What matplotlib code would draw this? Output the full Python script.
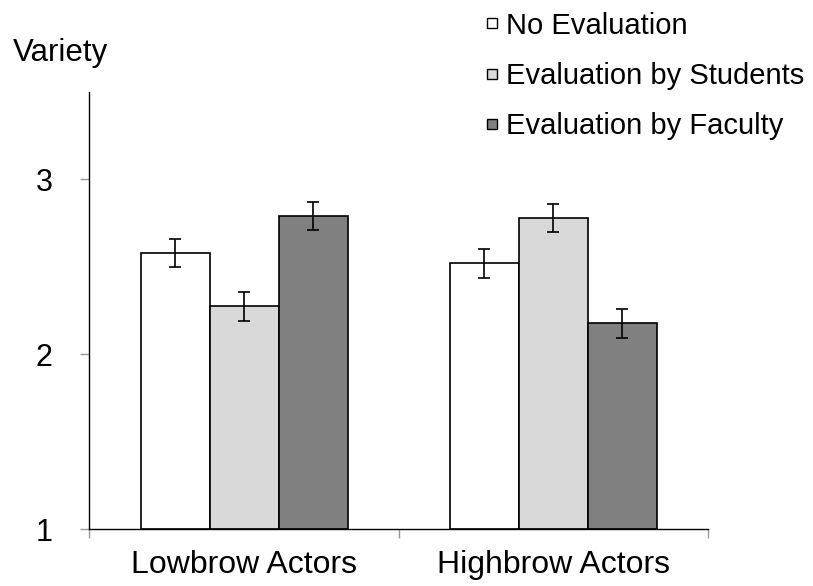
import matplotlib.pyplot as plt
from matplotlib.lines import Line2D
import numpy as np

plt.rcParams["font.family"] = ["Liberation Sans", "DejaVu Sans"]

groups = ["Lowbrow Actors", "Highbrow Actors"]
conditions = ["No Evaluation", "Evaluation by Students", "Evaluation by Faculty"]
no_eval = [2.58, 2.52]
by_students = [2.275, 2.78]
by_faculty = [2.79, 2.177]
errors = [0.082, 0.082]
colors = ["#ffffff", "#d9d9d9", "#808080"]


def make_chart() -> None:
    fig = plt.figure(figsize=(8.13, 5.86), dpi=100)
    ax = fig.add_axes([0.110, 0.097, 0.761, 0.746])

    x = np.arange(len(groups))
    width = 0.223
    series = [no_eval, by_students, by_faculty]
    for i, vals in enumerate(series):
        ax.bar(x + (i - 1) * width, np.array(vals) - 1, width, bottom=1,
               color=colors[i], edgecolor="black", linewidth=1.2,
               yerr=errors, capsize=4.2,
               error_kw={"elinewidth": 1.2, "capthick": 1.2, "ecolor": "black"})

    ax.set_xlim(-0.5, 1.5)
    ax.set_ylim(1, 3.5)
    ax.set_yticks([1, 2, 3])
    ax.tick_params(axis="y", length=6.5, width=1, color="#999999",
                   labelsize=22, pad=20)
    ax.set_xticks([-0.5, 0.5, 1.5])
    ax.set_xticklabels([])
    ax.set_xticks(x, minor=True)
    ax.set_xticklabels(groups, minor=True)
    ax.tick_params(axis="x", which="major", length=6.5, width=1, color="#999999")
    ax.tick_params(axis="x", which="minor", length=0, labelsize=23, pad=15)

    for side in ["top", "right"]:
        ax.spines[side].set_visible(False)
    ax.spines["left"].set_linewidth(1)
    ax.spines["bottom"].set_linewidth(1)

    fig.text(0.016, 0.91, "Variety", fontsize=22.5, ha="left", va="center")

    handles = [Line2D([], [], marker="s", linestyle="none", markersize=7,
                      markerfacecolor=c, markeredgecolor="black",
                      markeredgewidth=1) for c in colors]
    fig.legend(handles, conditions, loc="upper left",
               bbox_to_anchor=(0.567, 1.02), frameon=False, fontsize=21,
               handlelength=0.5, handletextpad=0.25, labelspacing=0.76,
               borderpad=0.3)

    fig.savefig("out.png")
    plt.close(fig)


if __name__ == "__main__":
    make_chart()
